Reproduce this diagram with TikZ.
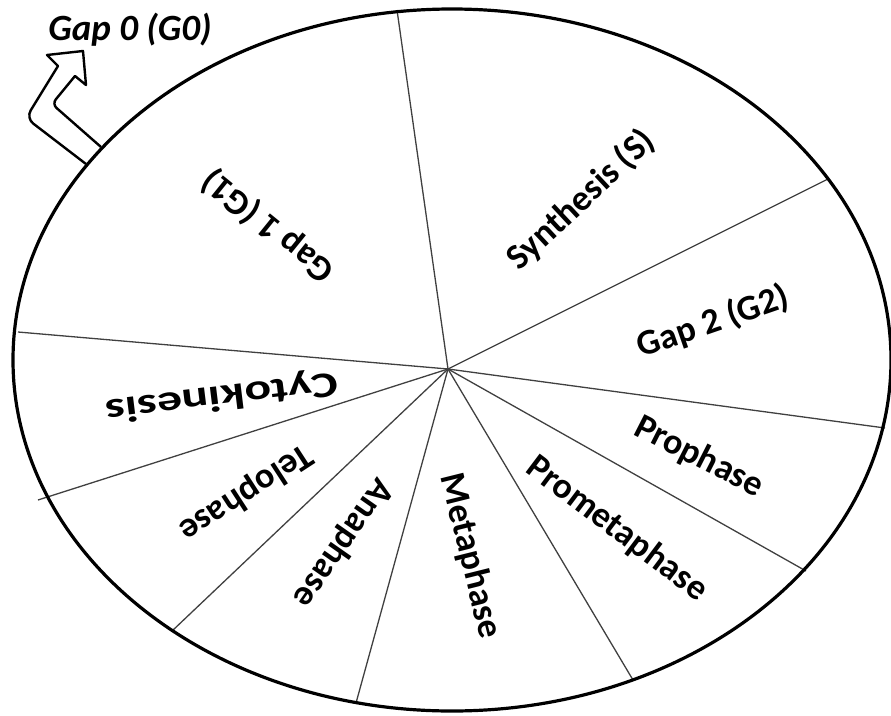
\documentclass[tikz,border=0pt]{standalone}
\usepackage{fontspec}
\usepackage{graphicx}
\setmainfont{Carlito}
\begin{document}
\begin{tikzpicture}[x=1pt, y=-1pt,
  phase/.style={font=\bfseries\fontsize{36}{40}\selectfont, inner sep=0pt},
  spoke/.style={line width=1.3pt, black!75}]
\useasboundingbox (0,0) rectangle (891,715);
\coordinate (c) at (448,369);
% dividing lines of the cycle
\foreach \p in {(397,10),(828,179),(885,428),(806,571),(633,680),(356,703),(172,631),(38,500),(18,332)}
  \draw[spoke] (c) -- \p;
% exit arrow to G0
\draw[line width=2.4pt, line join=round] (86,164) [rounded corners=9pt]-- (26,118) [sharp corners]-- (58,66) -- (47,55) -- (83,51) -- (86,85) -- (75,76) [rounded corners=6pt]-- (52,104) [sharp corners]-- (101,147);
\draw[line width=3.2pt] (452,360) ellipse (439 and 351);
\node[phase, rotate=141] (g1) at (268,226) {Gap 1 (G1)};
\node[phase, rotate=43] (s) at (581,200) {Synthesis (S)};
\node[phase, rotate=19] (g2) at (713,322) {Gap 2 (G2)};
\node[phase, rotate=-27] (pro) at (699,457) {Prophase};
\node[phase, rotate=-37] (prometa) at (617,529) {Prometaphase};
\node[phase, rotate=-76] (meta) at (470,556) {Metaphase};
\node[phase, rotate=-125] (ana) at (343,543) {Anaphase};
\node[phase, rotate=213] (telo) at (246,493) {Telophase};
\node[phase, rotate=187] (cyto) at (222,396) {\scalebox{1.38}[1]{Cytokinesis}};
\node[font=\bfseries\itshape\fontsize{37}{42}\selectfont, inner sep=0pt] (g0) at (130,30) {Gap 0 (G0)};
\end{tikzpicture}
\end{document}
